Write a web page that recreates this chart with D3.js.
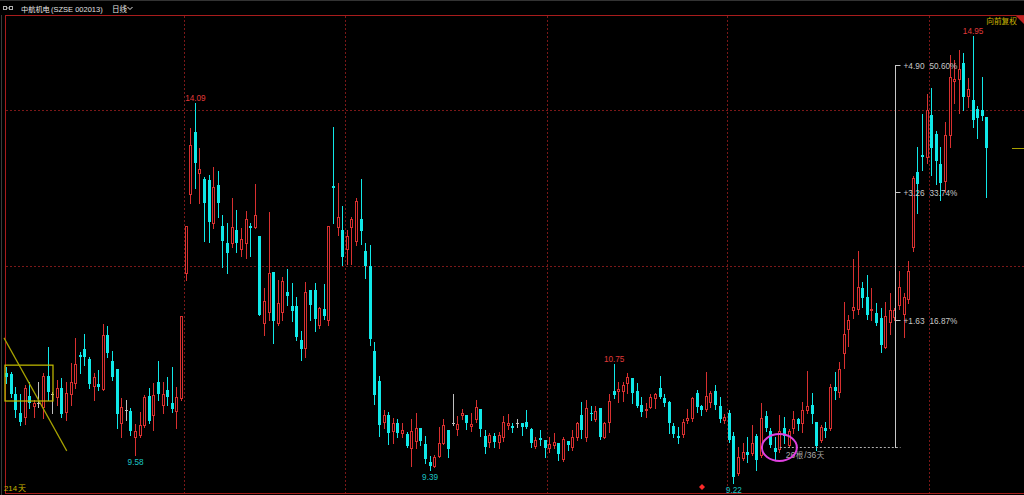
<!DOCTYPE html>
<html><head><meta charset="utf-8">
<script src="https://cdn.jsdelivr.net/npm/d3@7"></script>
<style>html,body{margin:0;padding:0;background:#000;overflow:hidden}</style>
</head><body><svg id="c" width="1024" height="495"></svg>
<script>
const opens=[10.63,10.62,10.36,10.12,10.07,10.33,10.21,10.24,10.19,10.59,
10.36,10.32,10.44,10.13,10.36,10.50,10.86,10.94,10.81,10.46,
10.49,10.42,11.12,10.78,10.68,9.99,10.15,10.14,9.81,9.83,
9.96,10.33,10.09,10.51,10.22,10.41,10.24,10.14,10.31,11.91,
12.92,13.72,13.19,13.12,13.10,12.55,13.04,12.51,12.30,12.30,
12.46,12.22,12.30,12.51,12.50,12.39,11.27,11.41,11.92,11.27,
11.41,11.67,11.49,11.49,11.05,10.95,11.69,11.69,11.24,11.45,
11.31,13.03,12.50,12.46,12.22,12.50,12.32,12.60,12.19,12.00,
10.91,10.53,10.00,10.09,9.88,9.99,9.86,9.85,9.67,9.76,
9.92,9.72,9.49,9.44,9.56,9.73,9.90,9.99,9.91,10.09,
10.09,9.95,10.04,10.17,9.82,9.74,9.82,9.74,9.81,9.96,
9.95,9.99,9.99,10.00,9.91,9.69,9.80,9.77,9.67,9.71,
9.73,9.53,9.76,9.68,9.81,10.09,9.81,10.12,10.04,10.18,
9.81,10.00,10.40,10.40,10.40,10.50,10.56,10.40,10.22,10.15,
10.19,10.31,10.44,10.31,10.26,9.95,9.82,9.85,10.03,10.05,
10.37,10.21,10.17,10.26,10.40,10.21,10.03,10.12,9.82,9.35,
9.54,9.62,9.60,9.82,9.58,10.08,9.89,9.67,9.65,9.92,
9.71,9.92,10.04,9.99,10.15,10.22,10.00,9.77,9.92,9.92,
10.45,10.39,10.88,11.19,11.44,11.45,11.72,11.60,11.44,11.40,
11.33,10.96,11.28,11.35,11.50,11.38,11.58,12.24,13.21,13.42,
13.40,13.94,13.69,13.31,13.09,13.68,14.37,14.40,14.60,14.18,
14.13,14.01,14.00,13.91];
const highs=[10.71,10.64,10.45,10.36,10.48,10.51,10.28,10.51,10.63,10.96,
10.39,10.54,10.56,10.51,10.76,11.08,10.90,11.13,10.83,10.63,
10.67,11.26,11.23,10.91,10.68,10.31,10.28,10.18,9.98,10.13,
10.35,10.44,10.50,10.78,10.51,10.58,10.71,10.45,11.36,12.51,
13.77,14.09,13.51,13.14,13.17,13.27,13.22,12.66,12.55,12.87,
12.72,12.49,12.71,12.55,13.05,12.39,11.72,12.69,11.92,11.82,
11.86,11.96,11.78,11.60,11.17,11.80,11.69,11.78,11.48,11.77,
12.51,13.78,13.06,12.77,12.46,12.63,12.87,13.12,12.30,12.27,
11.03,10.59,10.15,10.13,10.05,10.04,9.99,9.87,10.04,10.12,
9.92,9.82,9.56,9.58,9.94,10.04,9.90,10.36,10.08,10.17,
10.09,10.12,10.28,10.17,9.90,9.86,9.86,9.87,10.08,10.10,
9.99,10.04,9.99,10.15,9.92,9.81,9.90,9.77,9.81,9.86,
9.73,9.81,9.76,9.90,10.00,10.26,10.28,10.21,10.21,10.18,
10.00,10.36,10.75,10.51,10.51,10.63,10.56,10.50,10.32,10.25,
10.36,10.37,10.59,10.36,10.27,9.99,9.94,10.04,10.17,10.32,
10.41,10.22,10.64,10.40,10.48,10.32,10.10,10.15,9.87,9.68,
9.73,9.81,9.96,9.85,10.24,10.14,9.92,9.81,10.09,10.06,
9.91,10.14,10.05,10.26,10.65,10.37,10.00,9.96,10.00,10.49,
10.64,10.77,11.54,11.37,12.09,12.19,11.80,11.88,11.72,11.53,
11.46,11.54,11.65,11.46,11.94,11.65,12.06,13.15,13.53,13.95,
14.21,14.28,13.73,13.53,13.85,14.71,14.64,14.77,14.73,14.41,
14.95,14.06,14.42,13.91];
const lows=[10.50,10.32,10.07,9.96,9.98,10.18,10.07,10.19,10.05,10.28,
10.12,10.22,10.07,10.03,10.22,10.44,10.63,10.73,10.44,10.28,
10.41,10.41,10.83,10.54,9.92,9.81,10.03,9.83,9.58,9.81,
9.94,9.99,9.90,10.28,10.12,10.22,10.13,9.92,10.28,11.82,
12.81,13.00,12.81,12.32,12.31,12.49,12.63,11.99,11.91,12.24,
12.18,12.13,12.10,12.13,12.49,11.37,11.12,11.31,11.02,11.24,
11.31,11.50,11.30,11.05,10.80,10.83,11.31,11.17,11.21,11.32,
11.24,12.55,12.40,12.01,12.03,12.03,12.27,12.28,11.85,10.99,
10.23,9.82,9.92,9.72,9.73,9.81,9.81,9.68,9.44,9.67,
9.71,9.48,9.39,9.42,9.55,9.72,9.55,9.96,9.83,10.04,
9.91,9.88,10.00,9.82,9.60,9.68,9.68,9.67,9.76,9.91,
9.87,9.94,9.83,9.92,9.68,9.67,9.71,9.55,9.62,9.67,
9.51,9.50,9.64,9.64,9.77,9.80,9.76,10.03,10.01,9.78,
9.80,9.87,10.31,10.26,10.27,10.37,10.24,10.19,10.08,10.07,
10.18,10.18,10.31,10.21,9.86,9.81,9.73,9.81,9.99,10.01,
10.13,10.09,10.14,10.19,10.17,10.00,9.99,9.74,9.22,9.32,
9.51,9.49,9.58,9.39,9.55,9.89,9.68,9.53,9.62,9.73,
9.68,9.86,9.90,9.87,10.11,9.99,9.64,9.74,9.81,9.90,
10.30,10.32,10.69,10.98,11.33,11.38,11.47,11.32,11.31,11.24,
10.90,10.95,11.13,11.31,11.45,11.09,11.53,12.20,12.68,13.23,
13.32,13.17,13.05,12.85,12.95,13.53,14.09,13.96,14.00,14.04,
13.78,13.64,13.88,12.89];
const closes=[10.58,10.36,10.16,10.00,10.44,10.24,10.24,10.24,10.59,10.39,
10.36,10.44,10.10,10.37,10.51,10.74,10.83,10.83,10.49,10.58,
10.45,11.12,10.89,10.58,10.10,10.19,10.15,9.88,9.88,9.96,
10.32,10.01,10.35,10.36,10.36,10.32,10.17,10.32,11.36,12.51,
13.56,13.32,13.24,12.81,12.56,13.01,12.81,12.32,12.17,12.50,
12.30,12.35,12.60,12.49,12.66,11.37,11.55,11.91,11.30,11.53,
11.81,11.62,11.42,11.09,10.94,11.67,11.50,11.32,11.46,11.36,
12.51,13.00,12.63,12.12,12.39,12.60,12.83,12.45,12.00,11.06,
10.35,9.96,10.09,9.86,9.99,9.86,9.90,9.69,9.89,9.92,
9.76,9.53,9.44,9.55,9.73,9.96,9.66,9.99,9.97,10.12,
9.99,9.97,10.19,9.91,9.68,9.83,9.74,9.83,10.00,9.99,
9.92,9.99,9.94,9.94,9.73,9.77,9.77,9.67,9.72,9.74,
9.59,9.78,9.71,9.81,9.99,9.90,10.18,10.10,10.14,9.81,
9.99,10.27,10.35,10.42,10.47,10.58,10.37,10.21,10.13,10.17,
10.32,10.36,10.32,10.24,9.99,9.85,9.80,10.00,10.05,10.31,
10.19,10.15,10.33,10.37,10.22,10.04,10.06,9.77,9.30,9.55,
9.62,9.58,9.73,9.51,10.05,9.92,9.71,9.62,9.89,9.82,
9.89,10.04,9.97,10.15,10.21,10.10,9.69,9.94,9.89,10.45,
10.40,10.68,11.13,11.31,11.47,11.73,11.59,11.37,11.45,11.27,
10.99,11.36,11.44,11.44,11.73,11.60,11.94,13.13,13.05,13.40,
14.00,13.51,13.35,13.06,13.68,14.42,14.40,14.53,14.17,14.27,
13.87,13.90,13.92,13.51];

const priceGridLines=[12,14];
const periodStartIdx=[39,74,118,157,201];
const highLabelIdx=[41,132,210];
const lowLabelIdx=[28,92,158];
const measureFromIdx=168, measureToIdx=193;
const measureBase=9.68, measureTop=14.58;
const measureLabels=[["+4.90","50.60%"],["+3.26","33.74%"],["+1.63","16.87%"]];
const boxAnno={i0:-0.37,i1:10.06,p0:10.73,p1:10.27};
const lineAnno={i0:-0.59,p0:11.08,i1:13.05,p1:9.63};
const circleAnno={i:167.9,p:9.674,di:3.8,dp:0.173};
const markerIdx=151;
const barCount=opens.length;

const svg=d3.select("#c");
const W=1024,H=495;
const RED="#d83030",CYAN="#10e8e8",GRAY="#c0c0c0";
const LAT="'Liberation Sans',Arial,sans-serif";
const CJK="'Noto Sans CJK SC',sans-serif";

svg.append("rect").attr("width",W).attr("height",H).attr("fill","#000");

const x=d3.scaleBand().domain(d3.range(barCount)).range([4.4,4.4+barCount*4.602]);
const y=d3.scaleLinear().domain([9.68,14.58]).range([447,65]);
const step=x.step();
const cx=i=>x(i)+step/2;
const xi=v=>x(0)+step*(v+0.5);

function txt(g,xp,yp,s,fam,size,fill,anchor){
  const t=g.append("text").attr("x",xp).attr("y",yp).attr("font-family",fam).attr("font-size",size)
    .attr("fill",fill).text(s);
  if(anchor){t.attr("text-anchor",anchor);}
  return t;
}

// header
svg.append("line").attr("x1",0).attr("x2",W).attr("y1",0.5).attr("y2",0.5).attr("stroke","#333");
const ic=svg.append("g").attr("stroke","#b0b0b0").attr("fill","none").attr("stroke-width",1);
ic.append("rect").attr("x",3.5).attr("y",6.5).attr("width",3).attr("height",3);
ic.append("rect").attr("x",9.5).attr("y",6.5).attr("width",3).attr("height",3);
ic.append("line").attr("x1",6.5).attr("x2",9.5).attr("y1",8).attr("y2",8);
txt(svg,21,12,"中航机电",CJK,7.2,"#e6e6e6");
txt(svg,51,12,"(SZSE 002013)",LAT,7.5,"#e0e0e0");
txt(svg,112,12,"日线",CJK,7.5,"#e6e6e6");
svg.append("polyline").attr("points","127.5,7 130,9.5 132.5,7").attr("fill","none").attr("stroke","#e6e6e6");

// frame
svg.append("line").attr("x1",1.5).attr("x2",1.5).attr("y1",15).attr("y2",H).attr("stroke","#3a3a3a");
const frame=svg.append("g").attr("stroke","#a81c1c").attr("stroke-width",1);
frame.append("line").attr("x1",5).attr("x2",W).attr("y1",15.5).attr("y2",15.5);
frame.append("line").attr("x1",5.5).attr("x2",5.5).attr("y1",15).attr("y2",494);
frame.append("line").attr("x1",5).attr("x2",W).attr("y1",493.5).attr("y2",493.5);
svg.append("polygon").attr("points","1016,16 1024,16 1024,24").attr("fill","#c02020");

// grid
const grid=svg.append("g").attr("stroke","#7a1818").attr("stroke-dasharray","2,2").attr("stroke-width",1);
periodStartIdx.forEach(i=>{
  const gx=Math.round(x(i))+0.5;
  grid.append("line").attr("x1",gx).attr("x2",gx).attr("y1",16).attr("y2",493);
});
priceGridLines.forEach(p=>{
  const gy=Math.round(y(p))+0.5;
  grid.append("line").attr("x1",6).attr("x2",W).attr("y1",gy).attr("y2",gy);
});

// candles
const cg=svg.append("g");
for(let i=0;i<barCount;i++){
  const o=opens[i],h=highs[i],l=lows[i],c=closes[i];
  const col=Math.floor(cx(i));
  const color=c>o?RED:(c<o?CYAN:GRAY);
  const yH=Math.round(y(h)),yL=Math.round(y(l));
  const yT=Math.round(y(Math.max(o,c))),yB=Math.round(y(Math.min(o,c)));
  cg.append("line").attr("x1",col+0.5).attr("x2",col+0.5).attr("y1",yH).attr("y2",yL+1)
    .attr("stroke",color).attr("stroke-width",1);
  if(c>o){
    cg.append("rect").attr("x",col-0.5).attr("y",yT+0.5).attr("width",2)
      .attr("height",Math.max(1,yB-yT)).attr("fill","#000").attr("stroke",color).attr("stroke-width",1);
  }else if(c<o){
    cg.append("rect").attr("x",col-1).attr("y",yT).attr("width",3)
      .attr("height",Math.max(1,yB-yT)).attr("fill",color);
  }else{
    cg.append("rect").attr("x",col-1).attr("y",yT).attr("width",3).attr("height",1).attr("fill",color);
  }
}

// extreme labels
highLabelIdx.forEach(i=>{
  txt(svg,cx(i),y(highs[i])-2,highs[i].toFixed(2),LAT,8.2,"#e03a3a","middle");
});
lowLabelIdx.forEach(i=>{
  txt(svg,cx(i),y(lows[i])+10,lows[i].toFixed(2),LAT,8.2,"#1cc4c4","middle");
});

// yellow annotations
svg.append("rect").attr("x",xi(boxAnno.i0)).attr("y",y(boxAnno.p0))
  .attr("width",xi(boxAnno.i1)-xi(boxAnno.i0)).attr("height",y(boxAnno.p1)-y(boxAnno.p0))
  .attr("fill","none").attr("stroke","#c8c000").attr("stroke-width",1.2);
svg.append("line").attr("x1",xi(lineAnno.i0)).attr("y1",y(lineAnno.p0))
  .attr("x2",xi(lineAnno.i1)).attr("y2",y(lineAnno.p1)).attr("stroke","#a8a400").attr("stroke-width",1.2);

// last price marker
const lastY=Math.round(y(closes[barCount-1]))+0.5;
svg.append("line").attr("x1",1012).attr("x2",W).attr("y1",lastY).attr("y2",lastY).attr("stroke","#a8a000");

// measure tool
const mx=Math.round(cx(measureToIdx))+0.5;
const mg=svg.append("g");
mg.append("line").attr("x1",cx(measureFromIdx)).attr("x2",mx+5).attr("y1",Math.round(y(measureBase))+0.5)
  .attr("y2",Math.round(y(measureBase))+0.5).attr("stroke","#b0b0b0").attr("stroke-dasharray","2,2");
mg.append("line").attr("x1",mx).attr("x2",mx).attr("y1",Math.round(y(measureTop))).attr("y2",Math.round(y(measureBase))+1)
  .attr("stroke","#c8c8c8");
measureLabels.forEach((lab,k)=>{
  const p=measureBase+(measureTop-measureBase)*(3-k)/3;
  const ly=Math.round(y(p))+0.5;
  mg.append("line").attr("x1",mx).attr("x2",mx+5).attr("y1",ly).attr("y2",ly).attr("stroke","#c8c8c8");
  txt(mg,mx+8,ly+3.5,lab[0],LAT,8.3,"#c8c8c8");
  txt(mg,mx+34,ly+3.5,lab[1],LAT,8.2,"#c8c8c8");
});
const bx=cx(measureFromIdx)+6, by=y(measureBase)+11;
txt(svg,bx,by,"26",LAT,8.5,"#a8a8a8");
txt(svg,bx+10,by,"根",CJK,7.5,"#a8a8a8");
txt(svg,bx+18.5,by,"/36",LAT,8.5,"#a8a8a8");
txt(svg,bx+31,by,"天",CJK,7.5,"#a8a8a8");

// magenta circle
svg.append("ellipse").attr("cx",xi(circleAnno.i)).attr("cy",y(circleAnno.p))
  .attr("rx",xi(circleAnno.i+circleAnno.di)-xi(circleAnno.i))
  .attr("ry",y(circleAnno.p-circleAnno.dp)-y(circleAnno.p))
  .attr("fill","none").attr("stroke","#e040e0").attr("stroke-width",2);

// red marker at bottom
const mkx=Math.round(cx(markerIdx));
svg.append("path").attr("d",`M${mkx},484 L${mkx+3},487 L${mkx},490 L${mkx-3},487 Z`).attr("fill","#ff2a2a");

// bottom-left and top-right texts
txt(svg,4,491,"214",LAT,7.8,"#c8b400");
txt(svg,18,491,"天",CJK,8,"#c8b400");
txt(svg,1017,24,"向前复权",CJK,7.7,"#c8b400","end");
</script></body></html>
